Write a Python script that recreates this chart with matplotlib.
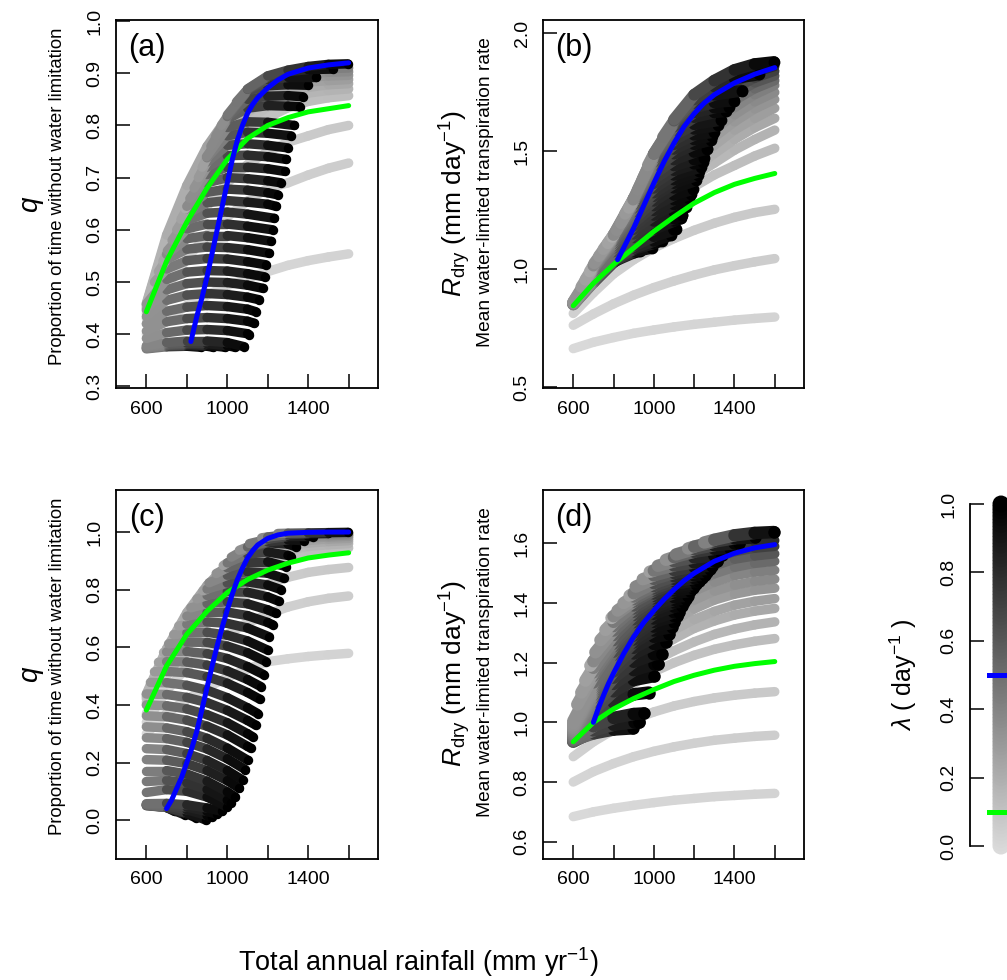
import matplotlib
matplotlib.use("Agg")
import matplotlib.pyplot as plt
from matplotlib.collections import LineCollection
import numpy as np

plt.rcParams['font.family'] = ['Liberation Sans', 'DejaVu Sans']
plt.rcParams['mathtext.fontset'] = 'custom'
plt.rcParams['mathtext.rm'] = 'Liberation Sans'
plt.rcParams['mathtext.it'] = 'Liberation Sans:italic'

# ---------------- data ----------------
# total annual rainfall grid used by the pale (low lambda) curves
light_x = [600, 700, 800, 900, 1000, 1100, 1200, 1300, 1400, 1500, 1600]

# rows of the grey fan, panels (a) and (b) share the x positions
ab_rows_x = [
    [600, 700, 800, 870],
    [600, 700, 800, 900, 930],
    [600, 700, 800, 900, 990],
    [600, 700, 800, 900, 1000, 1040],
    [600, 700, 800, 900, 1000, 1085],
    [600, 700, 800, 900, 1000, 1100, 1109],
    [600, 700, 800, 900, 1000, 1100, 1134],
    [600, 700, 800, 900, 1000, 1100, 1142],
    [600, 700, 800, 900, 1000, 1100, 1159],
    [600, 700, 800, 900, 1000, 1100, 1175],
    [600, 700, 800, 900, 1000, 1100, 1184],
    [640, 700, 800, 900, 1000, 1100, 1192],
    [660, 700, 800, 900, 1000, 1100, 1208],
    [682, 700, 800, 900, 1000, 1100, 1217],
    [704, 800, 900, 1000, 1100, 1225],
    [727, 800, 900, 1000, 1100, 1233],
    [750, 800, 900, 1000, 1100, 1200, 1242],
    [771, 800, 900, 1000, 1100, 1200, 1250],
    [793, 800, 900, 1000, 1100, 1200, 1266],
    [815, 900, 1000, 1100, 1200, 1283],
    [836, 900, 1000, 1100, 1200, 1291],
    [857, 900, 1000, 1100, 1200, 1299],
    [876, 900, 1000, 1100, 1200, 1316],
    [897, 1000, 1100, 1200, 1332],
    [919, 1000, 1100, 1200, 1300, 1357],
    [943, 1000, 1100, 1200, 1300, 1373],
    [970, 1000, 1100, 1200, 1300, 1398],
    [1000, 1100, 1200, 1300, 1439],
    [1045, 1100, 1200, 1300, 1400, 1522],
    [1100, 1200, 1300, 1400, 1500, 1596],
]
ab_rows_lam0 = [0.25, 0.25, 0.25, 0.25, 0.25,
                0.20, 0.20, 0.20, 0.20, 0.20, 0.20,
                0.20, 0.20, 0.20, 0.20, 0.20, 0.20, 0.20, 0.20,
                0.22, 0.22, 0.22, 0.22, 0.22,
                0.25, 0.28, 0.30, 0.33, 0.40, 0.45]

a_rows_y = [
    [.372, .376, .377, .375],
    [.373, .378, .379, .377, .375],
    [.374, .379, .381, .379, .375],
    [.376, .381, .383, .382, .378, .375],
    [.378, .384, .387, .387, .384, .376],
    [.392, .403, .408, .409, .407, .401, .399],
    [.406, .424, .430, .432, .430, .425, .421],
    [.420, .444, .452, .455, .453, .448, .443],
    [.434, .465, .475, .478, .476, .471, .466],
    [.447, .485, .497, .500, .499, .494, .488],
    [.458, .505, .519, .522, .521, .516, .510],
    [.500, .525, .541, .545, .544, .539, .533],
    [.520, .543, .563, .567, .566, .562, .555],
    [.540, .553, .583, .589, .589, .585, .578],
    [.560, .602, .611, .611, .607, .600],
    [.580, .618, .632, .634, .630, .622],
    [.600, .630, .652, .656, .653, .649, .645],
    [.620, .640, .672, .678, .676, .671, .667],
    [.640, .645, .690, .700, .698, .694, .690],
    [.660, .706, .720, .720, .717, .712],
    [.680, .720, .742, .743, .740, .735],
    [.700, .730, .762, .765, .762, .757],
    [.720, .738, .780, .787, .785, .780],
    [.740, .796, .807, .806, .800],
    [.760, .812, .833, .838, .837, .836],
    [.780, .815, .850, .856, .857, .855],
    [.800, .817, .866, .876, .878, .877],
    [.820, .868, .888, .892, .892],
    [.845, .869, .893, .903, .907, .908],
    [.870, .895, .906, .913, .917, .918],
]

b_rows_y = [
    [.850, .945, 1.030, 1.067],
    [.851, .946, 1.033, 1.070, 1.076],
    [.852, .947, 1.035, 1.075, 1.090],
    [.853, .948, 1.037, 1.085, 1.110, 1.120],
    [.855, .950, 1.040, 1.090, 1.120, 1.145],
    [.856, .955, 1.045, 1.100, 1.140, 1.167, 1.170],
    [.857, .962, 1.055, 1.120, 1.170, 1.205, 1.215],
    [.858, .970, 1.065, 1.135, 1.185, 1.215, 1.228],
    [.859, .980, 1.075, 1.150, 1.205, 1.245, 1.265],
    [.860, .990, 1.090, 1.170, 1.230, 1.275, 1.300],
    [.861, 1.000, 1.100, 1.185, 1.250, 1.295, 1.320],
    [.925, 1.005, 1.110, 1.200, 1.270, 1.315, 1.340],
    [.955, 1.010, 1.120, 1.215, 1.290, 1.345, 1.377],
    [.990, 1.015, 1.130, 1.230, 1.310, 1.365, 1.400],
    [1.025, 1.135, 1.245, 1.325, 1.380, 1.415],
    [1.055, 1.140, 1.260, 1.345, 1.400, 1.434],
    [1.085, 1.143, 1.275, 1.365, 1.420, 1.447, 1.454],
    [1.110, 1.145, 1.290, 1.385, 1.440, 1.465, 1.472],
    [1.137, 1.145, 1.300, 1.405, 1.465, 1.497, 1.510],
    [1.165, 1.290, 1.425, 1.490, 1.530, 1.548],
    [1.195, 1.290, 1.440, 1.510, 1.550, 1.567],
    [1.235, 1.295, 1.455, 1.530, 1.570, 1.582],
    [1.260, 1.298, 1.470, 1.550, 1.595, 1.610],
    [1.295, 1.480, 1.570, 1.615, 1.633],
    [1.335, 1.485, 1.590, 1.645, 1.665, 1.670],
    [1.380, 1.487, 1.605, 1.665, 1.685, 1.690],
    [1.440, 1.489, 1.620, 1.685, 1.708, 1.715],
    [1.490, 1.625, 1.705, 1.740, 1.757],
    [1.560, 1.630, 1.720, 1.775, 1.810, 1.826],
    [1.635, 1.740, 1.800, 1.845, 1.870, 1.879],
]

# rows of the grey fan, panels (c) and (d)
cd_rows_x = [
    [600, 700, 740],
    [600, 700, 790],
    [600, 700, 800, 845],
    [600, 700, 800, 895],
    [600, 700, 800, 900, 925],
    [600, 700, 800, 900, 950],
    [600, 700, 800, 900, 975],
    [600, 700, 800, 900, 1000],
    [600, 700, 800, 900, 1000, 1020],
    [600, 700, 800, 900, 1000, 1040],
    [600, 700, 800, 900, 1000, 1060],
    [600, 700, 800, 900, 1000, 1076],
    [600, 700, 800, 900, 1000, 1090],
    [600, 700, 800, 900, 1000, 1101],
    [600, 700, 800, 900, 1000, 1100, 1115],
    [600, 700, 800, 900, 1000, 1100, 1126],
    [600, 700, 800, 900, 1000, 1100, 1140],
    [620, 700, 800, 900, 1000, 1100, 1150],
    [640, 700, 800, 900, 1000, 1100, 1160],
    [660, 700, 800, 900, 1000, 1100, 1167],
    [685, 700, 800, 900, 1000, 1100, 1180],
    [710, 800, 900, 1000, 1100, 1192],
    [735, 800, 900, 1000, 1100, 1200],
    [760, 800, 900, 1000, 1100, 1208],
    [790, 800, 900, 1000, 1100, 1200, 1225],
    [820, 900, 1000, 1100, 1200, 1241],
    [850, 900, 1000, 1100, 1200, 1254],
    [880, 900, 1000, 1100, 1200, 1266],
    [910, 1000, 1100, 1200, 1278],
    [945, 1000, 1100, 1200, 1291],
    [980, 1000, 1100, 1200, 1300, 1315],
    [1020, 1100, 1200, 1300, 1340],
    [1060, 1100, 1200, 1300, 1380],
    [1110, 1200, 1300, 1400, 1422],
    [1170, 1200, 1300, 1400, 1500],
    [1250, 1300, 1400, 1500, 1596],
]
cd_rows_lam0 = [0.35, 0.35, 0.35, 0.35, 0.35, 0.35, 0.35,
                0.33, 0.31, 0.29, 0.27, 0.25, 0.23, 0.21, 0.20, 0.20, 0.20,
                0.20, 0.20, 0.20, 0.20,
                0.20, 0.20, 0.20, 0.20, 0.20,
                0.22, 0.22, 0.22, 0.22, 0.22,
                0.25, 0.25, 0.28, 0.30, 0.32]

c_rows_y = [
    [.050, .044, .030],
    [.051, .044, .018],
    [.052, .044, .022, .008],
    [.053, .044, .026, .000],
    [.054, .049, .036, .016, .010],
    [.055, .053, .045, .030, .020],
    [.057, .058, .053, .042, .030],
    [.096, .106, .100, .080, .045],
    [.134, .138, .129, .106, .069, .060],
    [.172, .172, .160, .135, .098, .080],
    [.210, .208, .196, .172, .137, .110],
    [.248, .245, .231, .207, .172, .139],
    [.286, .283, .270, .247, .213, .175],
    [.324, .320, .307, .284, .250, .208],
    [.362, .359, .347, .326, .296, .256, .250],
    [.400, .397, .386, .366, .338, .300, .289],
    [.438, .436, .426, .408, .381, .346, .330],
    [.478, .477, .468, .451, .425, .390, .370],
    [.515, .516, .512, .498, .475, .443, .420],
    [.548, .550, .549, .538, .518, .488, .463],
    [.582, .584, .585, .578, .561, .533, .505],
    [.612, .618, .617, .604, .581, .550],
    [.644, .650, .652, .642, .622, .590],
    [.674, .680, .688, .683, .667, .636],
    [.706, .708, .721, .722, .710, .686, .678],
    [.737, .752, .758, .751, .730, .718],
    [.768, .780, .793, .791, .775, .760],
    [.796, .802, .823, .827, .816, .800],
    [.824, .850, .862, .857, .840],
    [.856, .876, .897, .897, .880],
    [.884, .893, .923, .931, .919, .915],
    [.913, .945, .963, .958, .949],
    [.937, .948, .966, .973, .970],
    [.960, .975, .985, .985, .984],
    [.980, .983, .991, .994, .995],
    [.995, .996, .997, .998, .999],
]

d_rows_y = [
    [.935, .972, .975],
    [.937, .969, .978],
    [.939, .966, .979, .980],
    [.941, .963, .976, .980],
    [.943, .973, .992, 1.000, 1.000],
    [.946, .987, 1.015, 1.028, 1.030],
    [.949, 1.019, 1.067, 1.094, 1.100],
    [.952, 1.041, 1.104, 1.142, 1.155],
    [.956, 1.056, 1.129, 1.175, 1.195, 1.195],
    [.960, 1.069, 1.150, 1.203, 1.228, 1.230],
    [.965, 1.082, 1.171, 1.231, 1.263, 1.268],
    [.970, 1.092, 1.186, 1.250, 1.287, 1.295],
    [.976, 1.102, 1.200, 1.268, 1.308, 1.320],
    [.982, 1.109, 1.208, 1.278, 1.321, 1.335],
    [.989, 1.117, 1.218, 1.291, 1.337, 1.355, 1.355],
    [.996, 1.125, 1.226, 1.301, 1.348, 1.369, 1.370],
    [1.004, 1.134, 1.237, 1.314, 1.364, 1.388, 1.390],
    [1.060, 1.156, 1.255, 1.328, 1.377, 1.402, 1.405],
    [1.100, 1.168, 1.264, 1.336, 1.385, 1.411, 1.415],
    [1.140, 1.183, 1.276, 1.346, 1.394, 1.420, 1.425],
    [1.190, 1.205, 1.293, 1.360, 1.407, 1.434, 1.440],
    [1.235, 1.308, 1.371, 1.416, 1.442, 1.450],
    [1.276, 1.323, 1.382, 1.424, 1.450, 1.458],
    [1.310, 1.337, 1.392, 1.432, 1.456, 1.465],
    [1.350, 1.356, 1.405, 1.442, 1.465, 1.475, 1.475],
    [1.375, 1.413, 1.449, 1.473, 1.484, 1.485],
    [1.400, 1.422, 1.457, 1.481, 1.493, 1.495],
    [1.425, 1.433, 1.467, 1.490, 1.503, 1.505],
    [1.455, 1.481, 1.501, 1.512, 1.515],
    [1.480, 1.493, 1.511, 1.522, 1.525],
    [1.505, 1.509, 1.526, 1.536, 1.540, 1.540],
    [1.525, 1.540, 1.553, 1.559, 1.560],
    [1.545, 1.554, 1.572, 1.582, 1.585],
    [1.563, 1.581, 1.594, 1.600, 1.600],
    [1.583, 1.589, 1.606, 1.617, 1.620],
    [1.603, 1.612, 1.627, 1.635, 1.638],
]

# pale curves (small lambda), one value per light_x point
light_lam0 = [0.01, 0.03, 0.05, 0.07, 0.08, 0.10, 0.12, 0.14, 0.16, 0.18, 0.20, 0.22, 0.24, 0.26]
light_lam1 = [0.04, 0.07, 0.09, 0.15, 0.20, 0.25, 0.30, 0.35, 0.40, 0.45, 0.55, 0.65, 0.75, 0.85]

a_light_y = [
    [.400, .430, .455, .475, .493, .507, .520, .532, .541, .548, .554],
    [.420, .490, .545, .590, .625, .655, .680, .690, .705, .718, .728],
    [.430, .520, .590, .645, .690, .725, .750, .768, .780, .792, .800],
    [.440, .550, .635, .700, .750, .790, .815, .834, .846, .853, .857],
    [.445, .560, .650, .720, .770, .810, .835, .852, .862, .867, .870],
    [.450, .570, .660, .735, .785, .825, .850, .865, .873, .878, .880],
    [.452, .575, .670, .745, .795, .838, .862, .876, .883, .886, .888],
    [.455, .580, .675, .750, .805, .848, .873, .886, .892, .895, .896],
    [.457, .585, .680, .755, .810, .855, .882, .894, .900, .902, .903],
    [.459, .590, .685, .760, .815, .862, .890, .902, .907, .909, .910],
]
b_light_y = [
    [.663, .690, .710, .728, .742, .755, .766, .775, .784, .791, .797],
    [.762, .810, .853, .890, .922, .950, .975, .997, 1.015, 1.031, 1.045],
    [.812, .900, .980, 1.040, 1.090, 1.130, 1.165, 1.195, 1.220, 1.240, 1.254],
    [.850, .960, 1.060, 1.150, 1.225, 1.295, 1.350, 1.400, 1.440, 1.480, 1.513],
    [.852, .970, 1.075, 1.170, 1.255, 1.330, 1.395, 1.450, 1.505, 1.550, 1.590],
    [.854, .975, 1.085, 1.185, 1.275, 1.355, 1.425, 1.490, 1.550, 1.600, 1.640],
    [.855, .980, 1.095, 1.200, 1.295, 1.380, 1.455, 1.525, 1.590, 1.640, 1.683],
    [.856, .985, 1.105, 1.215, 1.315, 1.405, 1.485, 1.560, 1.625, 1.680, 1.720],
    [.857, .990, 1.115, 1.230, 1.335, 1.430, 1.515, 1.590, 1.655, 1.710, 1.750],
    [.858, .995, 1.125, 1.245, 1.355, 1.455, 1.545, 1.620, 1.685, 1.740, 1.780],
    [.859, 1.000, 1.135, 1.260, 1.375, 1.480, 1.570, 1.650, 1.715, 1.765, 1.800],
    [.860, 1.005, 1.140, 1.270, 1.390, 1.500, 1.595, 1.675, 1.740, 1.790, 1.820],
    [.860, 1.010, 1.145, 1.280, 1.400, 1.515, 1.615, 1.700, 1.765, 1.810, 1.840],
    [.861, 1.015, 1.145, 1.290, 1.420, 1.535, 1.640, 1.725, 1.790, 1.835, 1.860],
]
c_light_y = [
    [.300, .370, .420, .460, .495, .525, .550, .560, .568, .574, .579],
    [.340, .450, .530, .595, .645, .685, .715, .740, .758, .770, .778],
    [.370, .500, .600, .680, .740, .785, .820, .843, .860, .870, .877],
    [.400, .550, .660, .750, .815, .860, .895, .918, .932, .940, .945],
    [.410, .565, .680, .770, .835, .880, .915, .937, .950, .956, .960],
    [.420, .575, .695, .785, .850, .897, .930, .952, .962, .967, .970],
    [.425, .580, .705, .797, .862, .910, .942, .962, .971, .976, .978],
    [.430, .585, .710, .805, .872, .920, .953, .971, .979, .983, .985],
    [.435, .590, .715, .810, .880, .930, .962, .978, .985, .988, .990],
    [.438, .595, .720, .815, .886, .936, .968, .984, .990, .993, .995],
]
d_light_y = [
    [.684, .700, .712, .722, .731, .739, .745, .751, .755, .759, .762],
    [.800, .835, .862, .885, .903, .918, .930, .940, .947, .953, .957],
    [.885, .935, .975, 1.010, 1.035, 1.055, 1.070, 1.082, 1.091, 1.098, 1.103],
    [.940, 1.020, 1.080, 1.130, 1.170, 1.200, 1.225, 1.245, 1.260, 1.272, 1.281],
    [.945, 1.035, 1.105, 1.160, 1.205, 1.240, 1.270, 1.295, 1.313, 1.327, 1.337],
    [.950, 1.045, 1.125, 1.190, 1.240, 1.280, 1.315, 1.340, 1.360, 1.373, 1.382],
    [.955, 1.055, 1.140, 1.210, 1.265, 1.310, 1.345, 1.372, 1.393, 1.406, 1.415],
    [.960, 1.065, 1.155, 1.230, 1.290, 1.340, 1.380, 1.410, 1.430, 1.443, 1.450],
    [.965, 1.075, 1.170, 1.250, 1.315, 1.370, 1.410, 1.440, 1.460, 1.473, 1.480],
    [.970, 1.085, 1.185, 1.270, 1.340, 1.395, 1.440, 1.470, 1.492, 1.504, 1.510],
    [.975, 1.095, 1.200, 1.290, 1.360, 1.420, 1.465, 1.498, 1.520, 1.533, 1.540],
    [.980, 1.105, 1.215, 1.310, 1.380, 1.440, 1.490, 1.525, 1.547, 1.558, 1.565],
    [.985, 1.115, 1.230, 1.325, 1.400, 1.465, 1.515, 1.550, 1.572, 1.584, 1.590],
    [.990, 1.125, 1.245, 1.340, 1.420, 1.485, 1.535, 1.572, 1.594, 1.605, 1.610],
]

# lambda = 0.5 (blue) and lambda = 0.1 (green) curves
a_blue_x = [820, 850, 875, 900, 925, 950, 975, 1000, 1025, 1050, 1075, 1100, 1125, 1150,
            1200, 1250, 1300, 1400, 1500, 1600]
a_blue_y = [.386, .435, .470, .510, .555, .600, .645, .690, .735, .772, .800, .823, .840, .853,
            .872, .887, .898, .910, .916, .920]
a_green_y = [.443, .540, .615, .680, .735, .775, .800, .815, .826, .832, .838]
b_blue_x = [820, 850, 900, 950, 1000, 1050, 1100, 1150, 1200, 1250, 1300, 1400, 1500, 1600]
b_blue_y = [1.040, 1.090, 1.175, 1.270, 1.365, 1.455, 1.535, 1.605, 1.660, 1.705, 1.740,
            1.790, 1.827, 1.855]
b_green_y = [.845, .940, 1.020, 1.090, 1.160, 1.222, 1.280, 1.325, 1.360, 1.385, 1.406]
c_blue_x = [700, 725, 750, 775, 800, 825, 850, 875, 900, 925, 950, 975, 1000, 1025, 1050,
            1075, 1100, 1125, 1150, 1200, 1250, 1300, 1400, 1500, 1600]
c_blue_y = [.040, .070, .110, .150, .200, .250, .310, .385, .460, .535, .605, .670, .730,
            .785, .835, .875, .910, .935, .955, .978, .990, .996, .999, 1.0, 1.0]
c_green_y = [.382, .535, .645, .725, .790, .835, .868, .892, .910, .920, .928]
d_blue_x = [700, 725, 750, 775, 800, 850, 900, 950, 1000, 1050, 1100, 1150, 1200, 1300,
            1400, 1500, 1600]
d_blue_y = [1.000, 1.048, 1.090, 1.130, 1.165, 1.230, 1.287, 1.335, 1.375, 1.412, 1.445,
            1.475, 1.500, 1.540, 1.567, 1.585, 1.596]
d_green_y = [.935, 1.000, 1.045, 1.080, 1.110, 1.137, 1.158, 1.175, 1.188, 1.197, 1.204]

x_ticks = [600, 800, 1000, 1200, 1400, 1600]
x_ticklabels = ['600', '', '1000', '', '1400', '']
a_yticks = [0.3, 0.4, 0.5, 0.6, 0.7, 0.8, 0.9, 1.0]
b_yticks = [0.5, 1.0, 1.5, 2.0]
c_yticks = [0.0, 0.2, 0.4, 0.6, 0.8, 1.0]
d_yticks = [0.6, 0.8, 1.0, 1.2, 1.4, 1.6]
lam_ticks = [0.0, 0.2, 0.4, 0.6, 0.8, 1.0]
lam_blue = 0.5
lam_green = 0.1

# ---------------- drawing ----------------
W, H = 1007, 980
TICK_FS = 14


def grey(lam):
    v = 0.86 * (1.0 - lam) ** 0.95
    return (v, v, v)


def draw_rows(ax, xs_list, ys_list, lam0, lam1=None, lw=6.8, end_dot=True, shape=1.0):
    for i, (xs, ys) in enumerate(zip(xs_list, ys_list)):
        xs = np.asarray(xs, float)
        ys = np.asarray(ys, float)
        pts = np.column_stack([xs, ys])
        segs = np.stack([pts[:-1], pts[1:]], axis=1)
        l0 = lam0[i]
        l1 = 1.0 if lam1 is None else lam1[i]
        xm = (xs[:-1] + xs[1:]) / 2
        frac = ((xm - xs[0]) / (xs[-1] - xs[0])) ** shape
        lam = l0 + (l1 - l0) * frac
        lc = LineCollection(segs, colors=[grey(v) for v in lam], linewidths=lw,
                            capstyle='round', joinstyle='round', zorder=2)
        ax.add_collection(lc)
        if end_dot:
            ax.plot(xs[-1:], ys[-1:], 'o', ms=lw, color=grey(l1), mec='none', zorder=2)


def add_axes_px(fig, left, top, right, bottom):
    return fig.add_axes([left / W, 1 - bottom / H, (right - left) / W, (bottom - top) / H])


def style_axes(ax, ylim, yticks):
    ax.set_xlim(450, 1745)
    ax.set_ylim(*ylim)
    ax.set_xticks(x_ticks)
    ax.set_xticklabels(x_ticklabels, fontsize=TICK_FS)
    ax.set_yticks(yticks)
    ax.set_yticklabels(['%.1f' % t for t in yticks], fontsize=TICK_FS,
                       rotation=90, va='center')
    ax.tick_params(direction='in', length=10, width=1.1, pad=9)
    for s in ax.spines.values():
        s.set_linewidth(1.3)


fig = plt.figure(figsize=(W / 100, H / 100), dpi=100)

panels = [
    ('(a)', (116, 20, 378, 388), (0.297, 1.002), a_yticks, a_light_y, ab_rows_x, a_rows_y,
     ab_rows_lam0, a_blue_x, a_blue_y, a_green_y, 6.8),
    ('(b)', (543, 20, 804, 388), (0.496, 2.057), b_yticks, b_light_y, ab_rows_x, b_rows_y,
     ab_rows_lam0, b_blue_x, b_blue_y, b_green_y, 8.5),
    ('(c)', (116, 490, 378, 859), (-0.135, 1.146), c_yticks, c_light_y, cd_rows_x, c_rows_y,
     cd_rows_lam0, c_blue_x, c_blue_y, c_green_y, 6.8),
    ('(d)', (543, 490, 804, 859), (0.542, 1.779), d_yticks, d_light_y, cd_rows_x, d_rows_y,
     cd_rows_lam0, d_blue_x, d_blue_y, d_green_y, 9.0),
]

for (tag, box, ylim, yticks, light_y, rows_x, rows_y, lam0,
     blue_x, blue_y, green_y, fan_lw) in panels:
    ax = add_axes_px(fig, *box)
    n = len(light_y)
    draw_rows(ax, [light_x] * n, light_y, light_lam0[:n], light_lam1[:n], end_dot=False)
    draw_rows(ax, rows_x, rows_y, lam0, lw=fan_lw, shape=0.7)
    ax.plot(light_x, green_y, color='#00ff00', lw=3.6, solid_capstyle='round', zorder=3)
    ax.plot(blue_x, blue_y, color='#0000ff', lw=3.6, solid_capstyle='round', zorder=3)
    style_axes(ax, ylim, yticks)
    ax.text(0.118, 0.924, tag, transform=ax.transAxes, fontsize=22,
            ha='center', va='center')

# y axis titles
for yc in (204, 674):
    fig.text(30 / W, 1 - yc / H, 'q', fontsize=20, style='italic',
             rotation=90, ha='center', va='center')
    fig.text(58 / W, 1 - (yc - 8) / H, 'Proportion of time without water limitation',
             fontsize=13.3, rotation=90, ha='center', va='center')
    fig.text(455 / W, 1 - yc / H, r'$R_{\rm dry}$ (mm day$^{-1}$)', fontsize=19,
             rotation=90, ha='center', va='center')
    fig.text(485 / W, 1 - (yc - 12) / H, 'Mean water-limited transpiration rate',
             fontsize=13.8, rotation=90, ha='center', va='center')

fig.text(418 / W, 1 - 962 / H, r'Total annual rainfall (mm yr$^{-1}$)', fontsize=19.5,
         ha='center', va='center')

# lambda colour key
cax = add_axes_px(fig, 970, 490, 1070, 859)
cax.set_xlim(970, 1070)
cax.set_ylim(-0.038, 1.041)
key_lam = np.linspace(0, 1, 101)
cax.scatter(np.full(key_lam.size, 1001.0), key_lam, s=150,
            c=[grey(v) for v in key_lam], edgecolors='none', zorder=2)
cax.plot([989, 1070], [lam_blue, lam_blue], color='#0000ff', lw=3.6, zorder=3)
cax.plot([989, 1070], [lam_green, lam_green], color='#00ff00', lw=3.6, zorder=3)
for s in ('top', 'right', 'bottom'):
    cax.spines[s].set_visible(False)
cax.spines['left'].set_linewidth(1.3)
cax.spines['left'].set_bounds(0, 1)
cax.set_xticks([])
cax.set_yticks(lam_ticks)
cax.set_yticklabels(['%.1f' % t for t in lam_ticks], fontsize=TICK_FS,
                    rotation=90, va='center')
cax.tick_params(direction='in', length=10, width=1.1, pad=9)
fig.text(903 / W, 1 - 675 / H, r'$\lambda$ ( day$^{-1}$ )', fontsize=18,
         rotation=90, ha='center', va='center')

fig.savefig('out.png', dpi=100)
